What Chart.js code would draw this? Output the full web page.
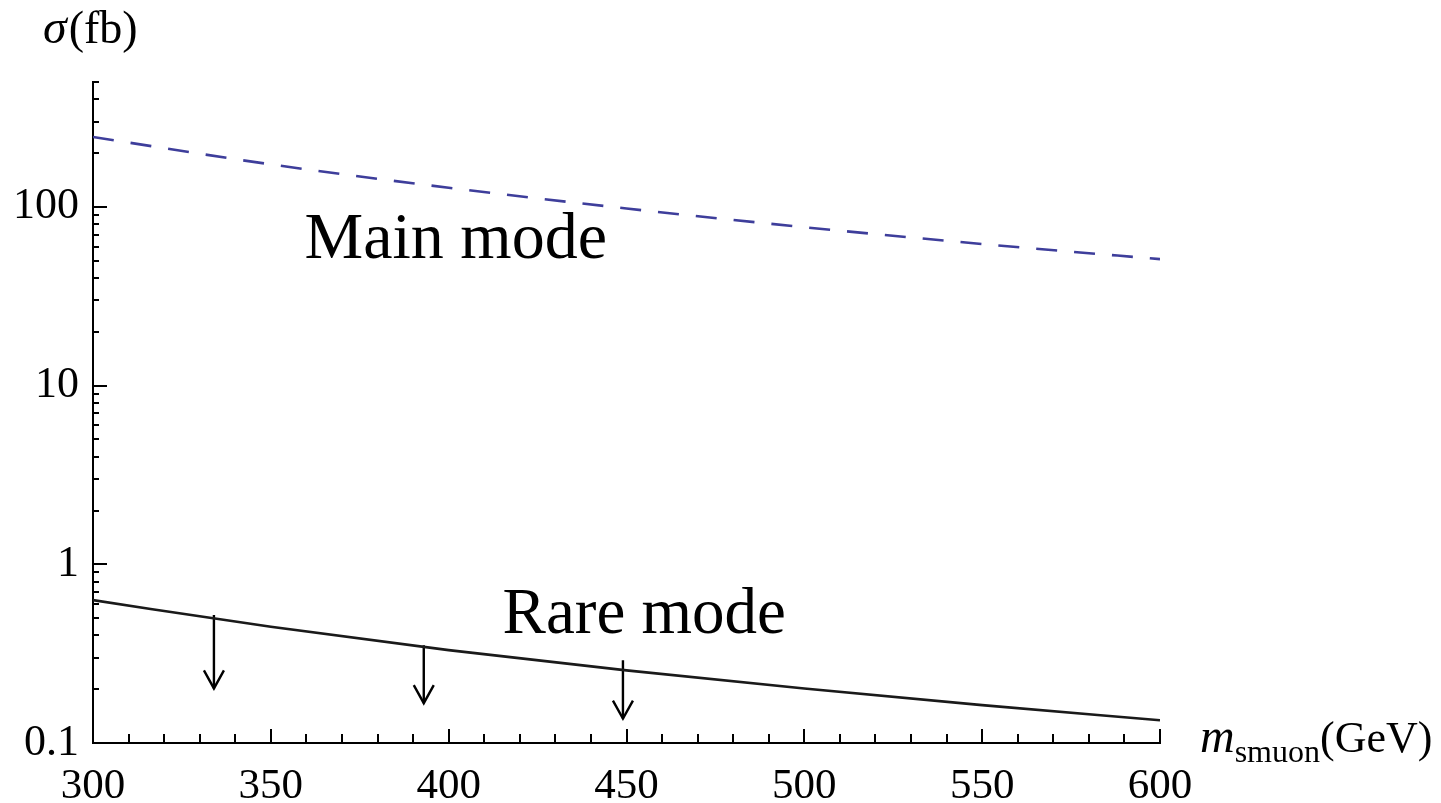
<!DOCTYPE html>
<html lang="en">

<head>
    <meta charset="UTF-8" />
    <title>Smuon cross sections</title>
    <script src="https://cdn.jsdelivr.net/npm/chart.js"></script>
    <style>
        body { margin: 0; background: #fff; }
        #wrap { width: 1441px; height: 803px; }
    </style>
</head>

<body>
    <div id="wrap">
        <canvas id="sigmaChart" width="1441" height="803"></canvas>
    </div>

    <script>
        // values (GeV, fb)
        const massGeV = [300, 350, 400, 450, 500, 550, 600];
        const mainMode = [246, 173, 128, 98, 77, 62, 51];
        const rareMode = [0.63, 0.447, 0.331, 0.255, 0.202, 0.163, 0.134];

        // upper-limit arrows on the rare mode
        const arrowMass = [334, 393, 449];
        const arrowTop = [0.52, 0.352, 0.29];
        const arrowTip = [0.202, 0.167, 0.137];

        const xTickLabels = [300, 350, 400, 450, 500, 550, 600];
        const yTickLabels = [0.1, 1, 10, 100];

        const serif = "'Liberation Serif', 'DejaVu Serif', serif";

        const toPoints = (xs, ys) => xs.map((x, i) => ({ x: x, y: ys[i] }));

        const arrowSets = arrowMass.map((m, i) => ({
            label: "limit " + (i + 1),
            data: [{ x: m, y: arrowTop[i] }, { x: m, y: arrowTip[i] }],
            borderColor: "#000",
            borderWidth: 2.4,
            pointRadius: 0,
            isArrow: true,
        }));

        // inside tick marks, labels in the plot, axis titles
        const decorations = {
            id: "decorations",
            afterDraw(chart) {
                const ctx = chart.ctx;
                const xs = chart.scales.x;
                const ys = chart.scales.y;
                const area = chart.chartArea;
                ctx.save();
                ctx.strokeStyle = "#000";
                ctx.lineWidth = 2;

                // x ticks, every 10 GeV, long ones every 50
                for (let m = 300; m <= 600; m += 10) {
                    const px = Math.round(xs.getPixelForValue(m));
                    const len = m % 50 === 0 ? 14 : 9;
                    ctx.beginPath();
                    ctx.moveTo(px, area.bottom);
                    ctx.lineTo(px, area.bottom - len);
                    ctx.stroke();
                }
                // y ticks, log decades
                for (let d = 0.1; d <= 100.001; d *= 10) {
                    for (let k = 1; k <= 9; k++) {
                        const v = d * k;
                        if (v > 500.001) break;
                        const py = Math.round(ys.getPixelForValue(v));
                        const len = k === 1 ? 14 : 6;
                        ctx.beginPath();
                        ctx.moveTo(area.left, py);
                        ctx.lineTo(area.left + len, py);
                        ctx.stroke();
                    }
                }

                // arrow heads
                ctx.lineWidth = 2.4;
                chart.data.datasets.forEach((ds, i) => {
                    if (!ds.isArrow) return;
                    const tip = chart.getDatasetMeta(i).data[1];
                    ctx.beginPath();
                    ctx.moveTo(tip.x - 10, tip.y - 18);
                    ctx.lineTo(tip.x, tip.y);
                    ctx.lineTo(tip.x + 10, tip.y - 18);
                    ctx.stroke();
                });

                // curve labels
                ctx.fillStyle = "#000";
                ctx.textAlign = "center";
                ctx.textBaseline = "alphabetic";
                ctx.font = "66px " + serif;
                ctx.fillText("Main mode", xs.getPixelForValue(402), ys.getPixelForValue(52));
                ctx.font = "65px " + serif;
                ctx.fillText("Rare mode", xs.getPixelForValue(455), ys.getPixelForValue(0.41));

                // y title
                ctx.textAlign = "left";
                let tx = 43;
                ctx.font = "italic 48px " + serif;
                ctx.fillText("σ", tx, 43);
                tx += ctx.measureText("σ").width + 2;
                ctx.font = "46px " + serif;
                ctx.fillText("(fb)", tx, 43);

                // x title
                tx = 1200;
                ctx.font = "italic 48px " + serif;
                ctx.fillText("m", tx, 752);
                tx += ctx.measureText("m").width;
                ctx.font = "32px " + serif;
                ctx.fillText("smuon", tx, 762);
                tx += ctx.measureText("smuon").width;
                ctx.font = "44px " + serif;
                ctx.fillText("(GeV)", tx, 752);
                ctx.restore();
            },
        };

        const ctxSigma = document.getElementById("sigmaChart").getContext("2d");
        const sigmaChart = new Chart(ctxSigma, {
            type: "line",
            data: {
                datasets: [
                    {
                        label: "Main mode",
                        data: toPoints(massGeV, mainMode),
                        borderColor: "rgb(62, 62, 155)",
                        borderWidth: 2.6,
                        borderDash: [21, 17],
                        pointRadius: 0,
                        cubicInterpolationMode: "monotone",
                    },
                    {
                        label: "Rare mode",
                        data: toPoints(massGeV, rareMode),
                        borderColor: "#1a1a1a",
                        borderWidth: 2.6,
                        pointRadius: 0,
                        cubicInterpolationMode: "monotone",
                    },
                    ...arrowSets,
                ],
            },
            options: {
                responsive: false,
                animation: false,
                devicePixelRatio: 1,
                layout: { padding: { top: 82, right: 281, left: 0, bottom: 0 } },
                plugins: {
                    legend: { display: false },
                    tooltip: { enabled: false },
                },
                scales: {
                    x: {
                        type: "linear",
                        min: 300,
                        max: 600,
                        afterBuildTicks: (scale) => {
                            scale.ticks = xTickLabels.map((v) => ({ value: v }));
                        },
                        afterFit: (scale) => { scale.height = 60; },
                        ticks: {
                            color: "#000",
                            font: { family: serif, size: 43 },
                            padding: 18,
                            maxRotation: 0,
                            autoSkip: false,
                        },
                        grid: { drawOnChartArea: false, drawTicks: false },
                        border: { display: true, color: "#000", width: 2 },
                    },
                    y: {
                        type: "logarithmic",
                        min: 0.1,
                        max: 500,
                        afterBuildTicks: (scale) => {
                            scale.ticks = yTickLabels.map((v) => ({ value: v }));
                        },
                        afterFit: (scale) => { scale.width = 93; },
                        ticks: {
                            color: "#000",
                            font: { family: serif, size: 44 },
                            padding: 14,
                            callback: (v) => String(v),
                        },
                        grid: { drawOnChartArea: false, drawTicks: false },
                        border: { display: true, color: "#000", width: 2 },
                    },
                },
            },
            plugins: [decorations],
        });
    </script>
</body>

</html>
